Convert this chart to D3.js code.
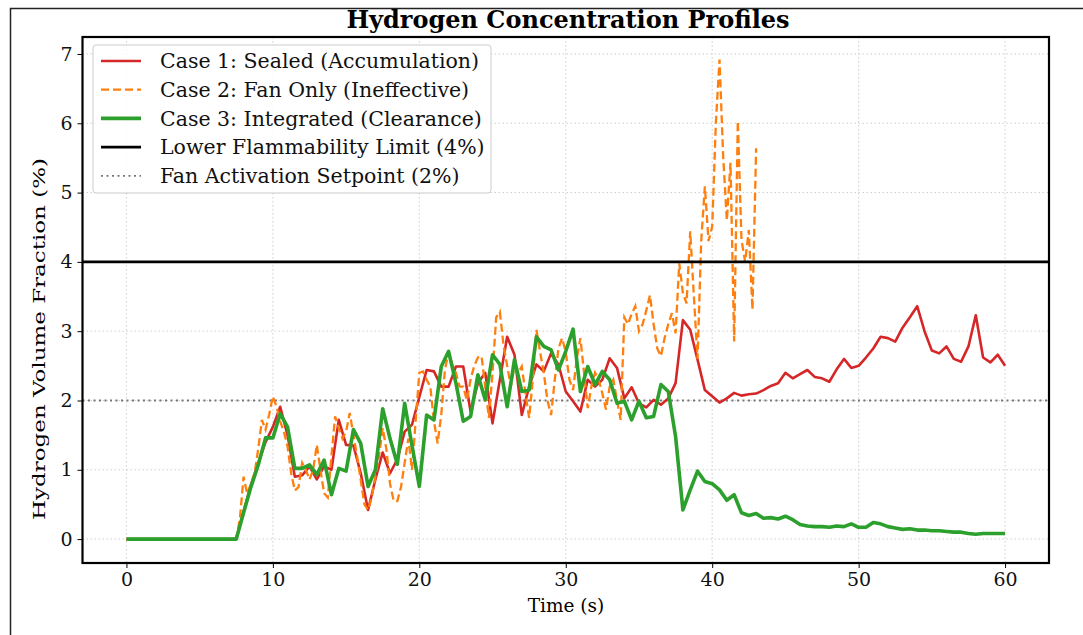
<!DOCTYPE html>
<html>
<head>
<meta charset="utf-8">
<script src="https://cdn.jsdelivr.net/npm/d3@7"></script>
<style>
  body { margin: 0; background: #fff; }
  svg { display: block; font-family: "DejaVu Serif", serif; }
</style>
</head>
<body>
<svg id="chart" width="1083" height="635"></svg>
<script>
// sample steps (s)
const dtCase = 0.5;
const dtFan = 0.25;

// Case 1: sealed, every 0.5 s from 0 to 60
const sealed = [
  0, 0, 0, 0, 0, 0, 0, 0, 0, 0, 0, 0, 0, 0, 0, 0,
  0.4, 0.78, 1.1, 1.4, 1.62, 1.91, 1.5, 0.9, 0.92, 1.05, 0.86, 1.05, 1.0,
  1.72, 1.36, 1.35, 0.95, 0.42, 0.86, 1.25, 0.95, 1.15, 1.55, 1.65, 2.05, 2.44,
  2.42, 2.2, 2.2, 2.49, 2.49, 1.84, 2.25, 2.4, 1.67, 2.3, 2.92, 2.66, 1.79, 2.2, 2.52,
  2.42, 2.68, 2.52, 2.13, 1.99, 1.84, 2.3, 2.2, 2.3, 2.61, 2.47, 2.03, 2.19, 1.96, 1.9,
  2.01, 1.94, 2.03, 2.25, 3.16, 3.02, 2.59, 2.15, 2.06, 1.97, 2.03, 2.11, 2.07, 2.09,
  2.1, 2.15, 2.21, 2.25, 2.4, 2.32, 2.38, 2.44, 2.34, 2.32, 2.27, 2.45, 2.6, 2.47,
  2.5, 2.62, 2.75, 2.92, 2.9, 2.85, 3.05, 3.2, 3.36, 3.0, 2.72, 2.68, 2.78, 2.6,
  2.56, 2.78, 3.23, 2.62, 2.55, 2.66, 2.5
];

// Case 2: fan only, every 0.25 s from 0 to 43
const fanOnly = [
  0, 0, 0, 0, 0, 0, 0, 0, 0, 0, 0, 0, 0, 0, 0, 0,
  0, 0, 0, 0, 0, 0, 0, 0, 0, 0, 0, 0, 0, 0, 0,
  0.3, 0.9, 0.65, 0.8, 0.95, 1.3, 1.72, 1.58, 1.8, 2.06, 1.91, 1.7,
  1.55, 1.34, 0.95, 0.7, 0.75, 1.1, 1.0, 0.86, 1.0, 1.36, 1.0, 0.66,
  0.6, 1.2, 1.77, 1.6, 1.45, 1.55, 1.82, 1.5, 1.2, 0.85, 0.5, 0.42,
  0.6, 0.9, 1.2, 1.6, 1.3, 0.8, 0.55, 0.55, 0.75, 1.1, 1.45, 1.0,
  1.7, 2.4, 2.42, 2.3, 2.2, 1.7, 1.38, 1.8, 2.44, 2.7, 2.52, 2.4,
  2.2, 2.2, 2.0, 2.3, 2.5, 2.62, 2.64, 2.2, 1.75, 2.4, 3.2, 3.28,
  2.8, 2.5, 2.2, 2.5, 2.4, 2.49, 2.1, 1.75, 2.3, 3.02, 2.7, 2.4,
  2.0, 1.79, 2.3, 2.75, 2.9, 2.7, 2.3, 2.15, 2.6, 2.9, 2.4, 1.89,
  2.2, 2.4, 2.3, 2.1, 1.87, 2.2, 2.3, 2.0, 1.72,
  3.2, 3.1, 3.25, 3.36, 3.0, 3.1, 3.3, 3.52, 3.1, 2.75, 2.64, 2.9,
  3.1, 3.26, 2.97, 3.98, 3.55, 3.4, 4.44, 3.5, 2.6, 4.3, 5.09, 4.3,
  4.51, 6.0, 6.92, 5.52, 4.6, 5.43, 2.85, 6.03, 4.32, 4.0, 4.46, 3.31, 5.64
];

// Case 3: integrated, every 0.5 s from 0 to 60
const integrated = [
  0, 0, 0, 0, 0, 0, 0, 0, 0, 0, 0, 0, 0, 0, 0, 0,
  0.38, 0.75, 1.07, 1.46, 1.46, 1.81, 1.62, 1.02, 1.02, 1.07, 0.93, 1.14, 0.64,
  1.02, 0.98, 1.58, 1.38, 0.76, 1.0, 1.88, 1.45, 1.08, 1.96, 1.35, 0.76, 1.79,
  1.72, 2.49, 2.71, 2.25, 1.7, 1.77, 2.37, 2.01, 2.66, 2.52, 1.91, 2.59, 2.13, 2.15,
  2.92, 2.78, 2.73, 2.44, 2.71, 3.03, 2.13, 2.49, 2.23, 2.42, 2.3, 1.96, 1.99, 1.72,
  1.99, 1.75,
  1.77, 2.23, 2.13, 1.48, 0.42, 0.71, 0.98, 0.83, 0.8, 0.71, 0.56, 0.64, 0.38, 0.34,
  0.37, 0.3, 0.31, 0.29, 0.33, 0.28, 0.21, 0.19, 0.18, 0.18, 0.17, 0.19, 0.18, 0.22,
  0.17, 0.17, 0.24, 0.22, 0.18, 0.16, 0.14, 0.15, 0.13, 0.13, 0.12, 0.12, 0.11, 0.1,
  0.1, 0.08, 0.07, 0.08, 0.08, 0.08, 0.08
];

const xTicks = [0, 10, 20, 30, 40, 50, 60];
const yTicks = [0, 1, 2, 3, 4, 5, 6, 7];
const lflLevel = 4;
const fanSetpoint = 2;

const legendLabels = [
  'Case 1: Sealed (Accumulation)',
  'Case 2: Fan Only (Ineffective)',
  'Case 3: Integrated (Clearance)',
  'Lower Flammability Limit (4%)',
  'Fan Activation Setpoint (2%)'
];

const W = 1083, H = 635;
const box = { left: 82.5, right: 1049, top: 37, bottom: 563 };

const svg = d3.select('#chart');

// outer figure frame
svg.append('rect')
  .attr('x', 10.5).attr('y', 8.5)
  .attr('width', W + 20).attr('height', H + 20)
  .attr('fill', 'none').attr('stroke', '#222').attr('stroke-width', 1.5);

const x = d3.scaleLinear().domain([-3, 63]).range([box.left, box.right]);
const y = d3.scaleLinear().domain([-0.345, 7.245]).range([box.bottom, box.top]);

// grid
const grid = svg.append('g');
grid.selectAll('.gx').data(xTicks).enter().append('line')
  .attr('x1', d => x(d)).attr('x2', d => x(d))
  .attr('y1', box.top).attr('y2', box.bottom)
  .attr('stroke', '#c8c8c8').attr('stroke-width', 0.9).attr('stroke-dasharray', '1.5,2.5');
grid.selectAll('.gy').data(yTicks).enter().append('line')
  .attr('y1', d => y(d)).attr('y2', d => y(d))
  .attr('x1', box.left).attr('x2', box.right)
  .attr('stroke', '#c8c8c8').attr('stroke-width', 0.9).attr('stroke-dasharray', '1.5,2.5');

function series(values, dt) {
  return values.map((v, i) => ({ t: i * dt, v: v }));
}

const line = d3.line().x(d => x(d.t)).y(d => y(d.v));

const plot = svg.append('g');

// setpoint (dotted gray)
plot.append('line')
  .attr('x1', box.left).attr('x2', box.right)
  .attr('y1', y(fanSetpoint)).attr('y2', y(fanSetpoint))
  .attr('stroke', '#777').attr('stroke-width', 1.8).attr('stroke-dasharray', '2,3.5');

plot.append('path').datum(series(sealed, dtCase))
  .attr('d', line).attr('fill', 'none')
  .attr('stroke', '#d62728').attr('stroke-width', 2.6).attr('stroke-linejoin', 'round');

plot.append('path').datum(series(fanOnly, dtFan))
  .attr('d', line).attr('fill', 'none')
  .attr('stroke', '#ff7f0e').attr('stroke-width', 2.3).attr('stroke-dasharray', '8,4');

plot.append('path').datum(series(integrated, dtCase))
  .attr('d', line).attr('fill', 'none')
  .attr('stroke', '#2ca02c').attr('stroke-width', 3.6).attr('stroke-linejoin', 'round');

// lower flammability limit
plot.append('line')
  .attr('x1', box.left).attr('x2', box.right)
  .attr('y1', y(lflLevel)).attr('y2', y(lflLevel))
  .attr('stroke', '#000').attr('stroke-width', 2.6);

// axes
const xAxis = svg.append('g')
  .attr('transform', `translate(0,${box.bottom})`)
  .call(d3.axisBottom(x).tickValues(xTicks).tickSize(5).tickPadding(5));
const yAxis = svg.append('g')
  .attr('transform', `translate(${box.left},0)`)
  .call(d3.axisLeft(y).tickValues(yTicks).tickSize(5).tickPadding(5));
[xAxis, yAxis].forEach(a => {
  a.select('.domain').remove();
  a.selectAll('line').attr('stroke', '#000').attr('stroke-width', 1);
  a.selectAll('text').attr('font-family', '"DejaVu Serif", serif')
    .attr('font-size', 19).attr('fill', '#111');
});

// frame
svg.append('rect')
  .attr('x', box.left).attr('y', box.top)
  .attr('width', box.right - box.left).attr('height', box.bottom - box.top)
  .attr('fill', 'none').attr('stroke', '#000').attr('stroke-width', 2.2);

// labels
svg.append('text')
  .attr('x', 568).attr('y', 28)
  .attr('text-anchor', 'middle').attr('font-weight', 'bold').attr('font-size', 24)
  .text('Hydrogen Concentration Profiles');
svg.append('text')
  .attr('x', 566).attr('y', 612)
  .attr('text-anchor', 'middle').attr('font-size', 18.5)
  .text('Time (s)');
svg.append('text')
  .attr('transform', 'translate(45,339) rotate(-90)')
  .attr('text-anchor', 'middle').attr('font-size', 17.5)
  .attr('textLength', 362).attr('lengthAdjust', 'spacingAndGlyphs')
  .text('Hydrogen Volume Fraction (%)');

// legend
const legendStyles = [
  { stroke: '#d62728', width: 2.6, dash: null },
  { stroke: '#ff7f0e', width: 2.3, dash: '8,4' },
  { stroke: '#2ca02c', width: 3.6, dash: null },
  { stroke: '#000', width: 2.6, dash: null },
  { stroke: '#777', width: 1.8, dash: '2,3.5' }
];
const legend = svg.append('g').attr('transform', 'translate(93,45)');
legend.append('rect')
  .attr('width', 398).attr('height', 148).attr('rx', 3)
  .attr('fill', '#fff').attr('fill-opacity', 0.85)
  .attr('stroke', '#ccc').attr('stroke-width', 1);
const rows = legend.selectAll('.row').data(legendLabels).enter().append('g')
  .attr('transform', (d, i) => `translate(0,${16 + i * 28.7})`);
rows.append('line')
  .attr('x1', 8).attr('x2', 48)
  .attr('stroke', (d, i) => legendStyles[i].stroke)
  .attr('stroke-width', (d, i) => legendStyles[i].width)
  .attr('stroke-dasharray', (d, i) => legendStyles[i].dash);
rows.append('text')
  .attr('x', 67).attr('dy', '0.35em').attr('font-size', 20.5)
  .attr('fill', '#111')
  .text(d => d);
</script>
</body>
</html>
